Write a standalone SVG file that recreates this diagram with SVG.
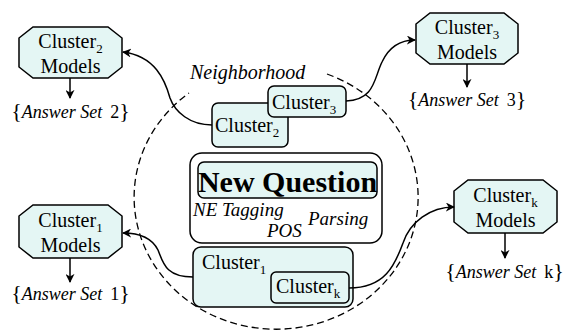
<svg xmlns="http://www.w3.org/2000/svg" width="564" height="331" viewBox="0 0 564 331" font-family="'Liberation Serif', 'Times New Roman', Times, serif">
<defs>
<style>
.oct{fill:#e4f6f4;stroke:#000;stroke-width:1.5}
.box{fill:#e4f6f4;stroke:#000;stroke-width:1.5}
.wbox{fill:#fff;stroke:#000;stroke-width:1.5}
text{font-family:'Liberation Serif','Times New Roman',Times,serif;font-size:20px;fill:#000}
.it{font-style:italic}
.ans{font-size:18px}
.br{font-size:22px}
.sub{font-size:13px}
.conn{fill:none;stroke:#000;stroke-width:1.5}
.dash{fill:none;stroke:#000;stroke-width:1.3;stroke-dasharray:7 4}
</style>
<marker id="ah" viewBox="0 0 10 10" refX="9" refY="5" markerWidth="9" markerHeight="9" markerUnits="userSpaceOnUse" orient="auto">
<path d="M0,0 L10,5 L0,10 L3,5 Z" fill="#000"/>
</marker>
</defs>
<rect width="564" height="331" fill="#fff"/>

<g id="neighborhood">
<path class="dash" d="M327,74 A142,132 0 1 1 189,93"/>
<text class="it" x="190" y="79">Neighborhood</text>
</g>

<g id="new-question">
<rect class="wbox" x="190" y="153" width="192" height="90" rx="12"/>
<rect class="box" x="198" y="162" width="179" height="36" rx="6"/>
<text x="287.5" y="192" text-anchor="middle" style="font-size:30px;font-weight:bold">New Question</text>
<text class="it" x="193" y="216" style="font-size:19px">NE Tagging</text>
<text class="it" x="267" y="237" style="font-size:19px">POS</text>
<text class="it" x="308" y="225" style="font-size:19px">Parsing</text>
</g>

<g id="cluster2">
<rect class="box" x="212" y="103" width="76" height="44" rx="6"/>
<text x="215" y="132">Cluster<tspan class="sub" dy="5">2</tspan></text>
</g>
<g id="cluster3">
<rect class="box" x="268" y="86" width="78" height="31" rx="6"/>
<text x="272" y="109">Cluster<tspan class="sub" dy="5">3</tspan></text>
</g>
<g id="cluster1">
<rect class="box" x="193" y="247" width="160" height="60" rx="8"/>
<text x="202" y="269">Cluster<tspan class="sub" dy="5">1</tspan></text>
</g>
<g id="clusterk">
<rect class="box" x="271" y="272" width="78" height="31" rx="5"/>
<text x="276" y="293">Cluster<tspan class="sub" dy="5">k</tspan></text>
</g>

<g id="cluster2-models">
<path class="oct" d="M33,27 H108 L122,38 V67 L108,78 H33 L19,67 V38 Z"/>
<text x="70.5" y="48" text-anchor="middle">Cluster<tspan class="sub" dy="5">2</tspan></text>
<text x="70.5" y="73" text-anchor="middle">Models</text>
</g>
<g id="answer2">
<text class="ans" x="70.5" y="118" text-anchor="middle"><tspan class="br">{</tspan><tspan class="it">Answer Set</tspan><tspan dx="8">2</tspan><tspan class="br">}</tspan></text>
</g>

<g id="cluster3-models">
<path class="oct" d="M430,13 H504 L518,24 V53 L504,64 H430 L416,53 V24 Z"/>
<text x="467" y="34" text-anchor="middle">Cluster<tspan class="sub" dy="5">3</tspan></text>
<text x="467" y="59" text-anchor="middle">Models</text>
</g>
<g id="answer3">
<text class="ans" x="467" y="106" text-anchor="middle"><tspan class="br">{</tspan><tspan class="it">Answer Set</tspan><tspan dx="8">3</tspan><tspan class="br">}</tspan></text>
</g>

<g id="cluster1-models">
<path class="oct" d="M33,205 H108 L122,216 V247 L108,258 H33 L19,247 V216 Z"/>
<text x="70.5" y="227" text-anchor="middle">Cluster<tspan class="sub" dy="5">1</tspan></text>
<text x="70.5" y="252" text-anchor="middle">Models</text>
</g>
<g id="answer1">
<text class="ans" x="70.5" y="300" text-anchor="middle"><tspan class="br">{</tspan><tspan class="it">Answer Set</tspan><tspan dx="8">1</tspan><tspan class="br">}</tspan></text>
</g>

<g id="clusterk-models">
<path class="oct" d="M468,180 H543 L557,191 V222 L543,233 H468 L454,222 V191 Z"/>
<text x="505.5" y="202" text-anchor="middle">Cluster<tspan class="sub" dy="5">k</tspan></text>
<text x="505.5" y="227" text-anchor="middle">Models</text>
</g>
<g id="answerk">
<text class="ans" x="504.5" y="278" text-anchor="middle"><tspan class="br">{</tspan><tspan class="it">Answer Set</tspan><tspan dx="8">k</tspan><tspan class="br">}</tspan></text>
</g>

<g id="connectors">
<path class="conn" marker-end="url(#ah)" d="M212,125 C190,125 175,112 170,98 C165,80 155,56 123,52"/>
<path class="conn" marker-end="url(#ah)" d="M346,101 C375,100 374,78 382,62 C389,47 400,40 415,40"/>
<path class="conn" marker-end="url(#ah)" d="M193,277 C165,277 163,262 158,250 C152,238 140,233 123,233"/>
<path class="conn" marker-end="url(#ah)" d="M349,288 C385,288 395,265 403,243 C410,222 430,207 454,207"/>
<path class="conn" marker-end="url(#ah)" d="M70,78 V98"/>
<path class="conn" marker-end="url(#ah)" d="M467,64 V87"/>
<path class="conn" marker-end="url(#ah)" d="M70,258 V282"/>
<path class="conn" marker-end="url(#ah)" d="M505,233 V258"/>
</g>
</svg>
